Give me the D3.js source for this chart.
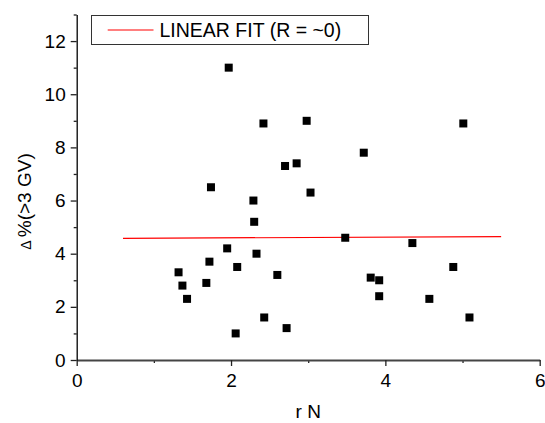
<!DOCTYPE html>
<html>
<head>
<meta charset="utf-8">
<script src="https://cdn.jsdelivr.net/npm/d3@7"></script>
<style>
  body { margin: 0; background: #fff; }
  svg { display: block; font-family: "Liberation Sans", Arial, sans-serif; }
</style>
</head>
<body>
<div id="chart"></div>
<script>
// data
var rN       = [1.97, 1.74, 1.95, 1.72, 2.08, 1.32, 1.37, 1.43, 1.68, 2.06,
                2.42, 2.98, 3.72, 2.70, 2.85, 3.03, 2.29, 2.30, 3.48, 4.35,
                2.33, 2.60, 3.81, 3.92, 3.92, 2.43, 2.72,
                5.01, 4.88, 4.57, 5.09];
var deltaPct = [11.0, 6.5, 4.2, 3.7, 3.5, 3.3, 2.8, 2.3, 2.9, 1.0,
                8.9, 9.0, 7.8, 7.3, 7.4, 6.3, 6.0, 5.2, 4.6, 4.4,
                4.0, 3.2, 3.1, 3.0, 2.4, 1.6, 1.2,
                8.9, 3.5, 2.3, 1.6];

// linear fit end points
var fitX = [0.60, 5.50];
var fitY = [4.58, 4.64];

var xTicks = [0, 2, 4, 6];
var xMinor = [1, 3, 5];
var yTicks = [0, 2, 4, 6, 8, 10, 12];
var yMinor = [1, 3, 5, 7, 9, 11, 13];

var legendLabel = "LINEAR FIT (R = ~0)";

// svg container
var svgWidth = 545;
var svgHeight = 423;

var margin = { top: 14.5, right: 5.3, bottom: 63, left: 76.7 };
var width = svgWidth - margin.left - margin.right;
var height = svgHeight - margin.top - margin.bottom;

var svg = d3.select("#chart")
  .append("svg")
  .attr("width", svgWidth)
  .attr("height", svgHeight);

var chartGroup = svg.append("g")
  .attr("transform", `translate(${margin.left}, ${margin.top})`);

// scales
var xScale = d3.scaleLinear().domain([0, 6]).range([0, width]);
var yScale = d3.scaleLinear().domain([0, 13]).range([height, 0]);

// minor ticks first
chartGroup.append("g")
  .attr("transform", `translate(0, ${height})`)
  .call(d3.axisBottom(xScale).tickValues(xMinor).tickSize(3).tickSizeOuter(0).tickFormat(""))
  .call(g => g.select(".domain").remove());

chartGroup.append("g")
  .call(d3.axisLeft(yScale).tickValues(yMinor).tickSize(3).tickSizeOuter(0).tickFormat(""))
  .call(g => g.select(".domain").remove());

// main axes
var xAxis = chartGroup.append("g")
  .attr("transform", `translate(0, ${height})`)
  .call(d3.axisBottom(xScale).tickValues(xTicks).tickFormat(d3.format("d"))
    .tickSize(6).tickSizeOuter(0).tickPadding(8));

var yAxis = chartGroup.append("g")
  .call(d3.axisLeft(yScale).tickValues(yTicks).tickFormat(d3.format("d"))
    .tickSize(6).tickSizeOuter(0).tickPadding(5));

chartGroup.selectAll(".tick text")
  .attr("font-size", "19px")
  .attr("font-family", "Liberation Sans, Arial, sans-serif")
  .attr("fill", "#000");

chartGroup.selectAll(".tick line").attr("stroke", "#222").attr("stroke-width", 1.3);
xAxis.select(".domain").attr("stroke", "#444").attr("stroke-width", 2);
yAxis.select(".domain").attr("stroke", "#000").attr("stroke-width", 1.3);

// axis titles
svg.append("text")
  .attr("x", margin.left + width / 2)
  .attr("y", 418)
  .attr("text-anchor", "middle")
  .attr("font-size", "19px")
  .text("r N");

var yTitle = svg.append("text")
  .attr("transform", "translate(31, 201.5) rotate(-90)")
  .attr("text-anchor", "middle")
  .attr("font-size", "19px");
yTitle.append("tspan").attr("font-size", "14px").text("\u0394 ");
yTitle.append("tspan").text("%(>3 GV)");

// fit line
var line = d3.line()
  .x(d => xScale(d[0]))
  .y(d => yScale(d[1]));

chartGroup.append("path")
  .datum(d3.zip(fitX, fitY))
  .attr("d", line)
  .attr("fill", "none")
  .attr("stroke", "#ff0000")
  .attr("stroke-width", 1.2);

// points
var pts = d3.zip(rN, deltaPct);
chartGroup.selectAll("rect.pt")
  .data(pts)
  .enter()
  .append("rect")
  .attr("class", "pt")
  .attr("x", d => xScale(d[0]) - 4)
  .attr("y", d => yScale(d[1]) - 4)
  .attr("width", 8)
  .attr("height", 8)
  .attr("fill", "#000");

// legend
var legend = svg.append("g");
legend.append("rect")
  .attr("x", 91.5)
  .attr("y", 15.5)
  .attr("width", 277)
  .attr("height", 29)
  .attr("fill", "#fff")
  .attr("stroke", "#333")
  .attr("stroke-width", 1);
legend.append("line")
  .attr("x1", 107.7).attr("x2", 153.5)
  .attr("y1", 30).attr("y2", 30)
  .attr("stroke", "#ff0000")
  .attr("stroke-width", 1.2);
legend.append("text")
  .attr("x", 159.5)
  .attr("y", 37)
  .attr("font-size", "19.5px")
  .text(legendLabel);
</script>
</body>
</html>
